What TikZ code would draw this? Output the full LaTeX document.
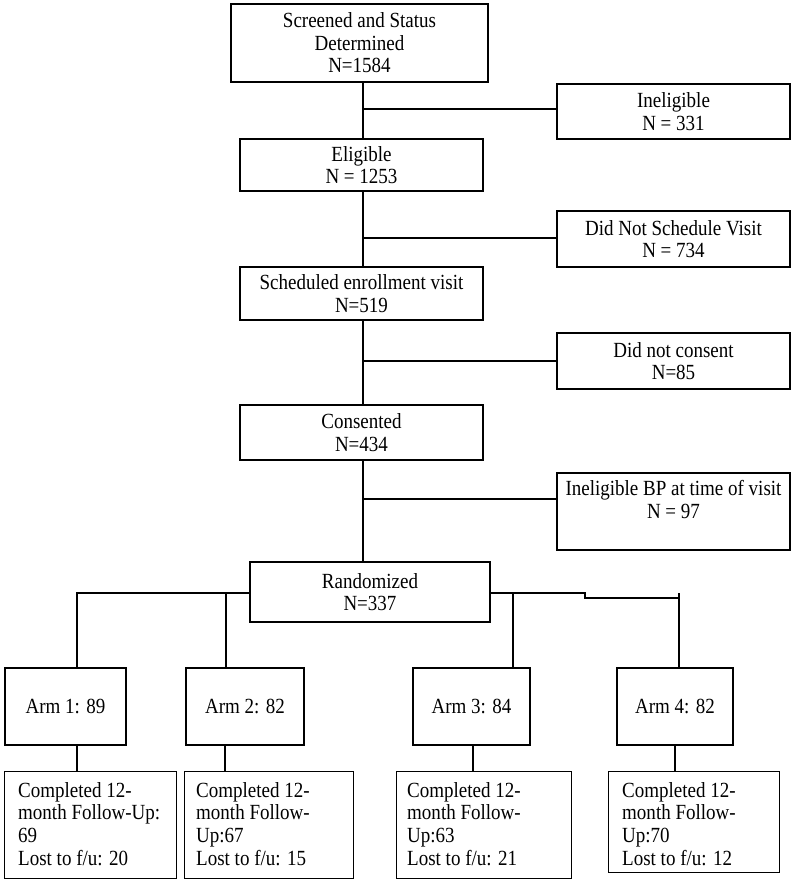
\documentclass[tikz,border=0pt]{standalone}
\usepackage{fontspec}
\setmainfont{Liberation Serif}[FakeStretch=0.88]
\begin{document}
\begin{tikzpicture}[x=1pt,y=-1pt,
  box/.style={draw, line width=1.2pt, inner sep=0pt, align=center,
    font=\fontsize{21.6}{22.5}\selectfont},
  ftext/.style={inner sep=0pt, align=left, anchor=north west,
    font=\fontsize{21.6}{22.7}\selectfont},
  ln/.style={line width=1.2pt}]
\useasboundingbox (0,0) rectangle (800,881);
% main column
\node[box, minimum width=257pt, minimum height=78pt] (s) at (359.5,43) {Screened and Status\\Determined\\N=1584};
\node[box, minimum width=243pt, minimum height=52pt] (e) at (361.5,165) {Eligible\\N = 1253};
\node[box, minimum width=243pt, minimum height=53pt] (sc) at (361.5,293.5) {Scheduled enrollment visit\\N=519};
\node[box, minimum width=243pt, minimum height=55pt] (c) at (361.5,432.5) {Consented\\N=434};
\node[box, minimum width=240pt, minimum height=60pt] (r) at (370,592) {Randomized\\N=337};
% side boxes
\node[box, minimum width=233pt, minimum height=55pt] (i1) at (673.5,111.5) {Ineligible\\N = 331};
\node[box, minimum width=233pt, minimum height=56pt] (i2) at (673.5,239) {Did Not Schedule Visit\\N = 734};
\node[box, minimum width=233pt, minimum height=56pt] (i3) at (673.5,361) {Did not consent\\N=85};
\node[box, minimum width=233pt, minimum height=77pt] (i4) at (673.5,511.5) {};
\node[inner sep=0pt, align=center, anchor=north, font=\fontsize{21.6}{22.5}\selectfont] (i4t) at ([yshift=-8pt]i4.north) {Ineligible BP at time of visit\\N = 97};
% trunk
\coordinate (t0) at (363,82);
\coordinate (b1) at (363,109);
\coordinate (b2) at (363,238);
\coordinate (b3) at (363,361);
\coordinate (b4) at (363,499);
\coordinate (t4) at (363,562);
\draw[ln] (t0) -- (e.north -| t0);
\draw[ln] (e.south -| t0) -- (sc.north -| t0);
\draw[ln] (sc.south -| t0) -- (c.north -| t0);
\draw[ln] (c.south -| t0) -- (t4);
\draw[ln] (b1) -- (i1.west |- b1);
\draw[ln] (b2) -- (i2.west |- b2);
\draw[ln] (b3) -- (i3.west |- b3);
\draw[ln] (b4) -- (i4.west |- b4);
% arms
\node[box, minimum width=121pt, minimum height=77pt] (a1) at (65.5,706.5) {Arm 1: 89};
\node[box, minimum width=118pt, minimum height=77pt] (a2) at (245,706.5) {Arm 2: 82};
\node[box, minimum width=117pt, minimum height=77pt] (a3) at (471.5,706.5) {Arm 3: 84};
\node[box, minimum width=116pt, minimum height=77pt] (a4) at (675,706.5) {Arm 4: 82};
\coordinate (h1) at (77,593);
\coordinate (h2) at (226,593);
\coordinate (h3) at (513,593);
\coordinate (hs) at (585,593);
\coordinate (hs2) at (585,598);
\coordinate (h4) at (679,593);
\draw[ln] (r.west |- h1) -- (h1) -- (h1 |- a1.north);
\draw[ln] (h2) -- (h2 |- a2.north);
\draw[ln] (r.east |- h3) -- (hs) -- (hs2) -- (h4 |- hs2);
\draw[ln] (h3) -- (h3 |- a3.north);
\draw[ln] (h4) -- (h4 |- a4.north);
% follow-up boxes
\node[box, minimum width=172pt, minimum height=107pt, anchor=north west] (f1) at (4,771) {};
\node[box, minimum width=169pt, minimum height=107pt, anchor=north west] (f2) at (184,771) {};
\node[box, minimum width=175pt, minimum height=107pt, anchor=north west] (f3) at (396,771) {};
\node[box, minimum width=171pt, minimum height=101pt, anchor=north west] (f4) at (608,771) {};
\node[ftext] (f1t) at ([xshift=14pt,yshift=-11pt]f1.north west) {Completed 12-\\month Follow-Up:\\69\\Lost to f/u: 20};
\node[ftext] (f2t) at ([xshift=12pt,yshift=-11pt]f2.north west) {Completed 12-\\month Follow-\\Up:67\\Lost to f/u: 15};
\node[ftext] (f3t) at ([xshift=11pt,yshift=-11pt]f3.north west) {Completed 12-\\month Follow-\\Up:63\\Lost to f/u: 21};
\node[ftext] (f4t) at ([xshift=14pt,yshift=-11pt]f4.north west) {Completed 12-\\month Follow-\\Up:70\\Lost to f/u: 12};
\coordinate (v1) at (77,745);
\coordinate (v2) at (225,745);
\coordinate (v3) at (473,745);
\coordinate (v4) at (675,745);
\draw[ln] (v1) -- (v1 |- f1.north);
\draw[ln] (v2) -- (v2 |- f2.north);
\draw[ln] (v3) -- (v3 |- f3.north);
\draw[ln] (v4) -- (v4 |- f4.north);
\end{tikzpicture}
\end{document}
